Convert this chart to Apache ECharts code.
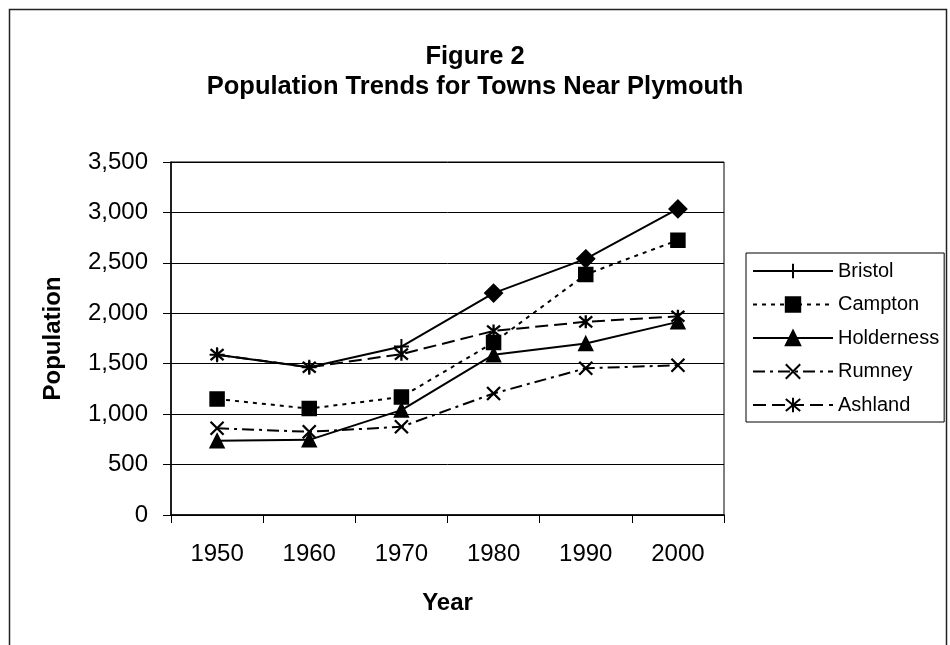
<!DOCTYPE html>
<html><head><meta charset="utf-8">
<script src="https://cdn.jsdelivr.net/npm/echarts/dist/echarts.min.js"></script>
<style>html,body{margin:0;padding:0;background:#fff}#c{width:950px;height:645px}</style>
</head><body><div id="c"></div>
<script>
const years = ['1950','1960','1970','1980','1990','2000'];
const yTickLabels = ['0','500','1,000','1,500','2,000','2,500','3,000','3,500'];
const seriesNames = ['Bristol','Campton','Holderness','Rumney','Ashland'];
const bristol = [1590,1465,1670,2200,2540,3035];
const campton = [1150,1055,1170,1710,2385,2725];
const holderness = [735,745,1040,1590,1700,1915];
const rumney = [860,825,875,1205,1455,1485];
const ashland = [1590,1465,1595,1825,1915,1970];

const FONT = "'Liberation Sans', Arial, sans-serif";
const plusPath = 'path://M0,5 L10,5 M5,0 L5,10';
const xPath = 'path://M0,0 L10,10 M10,0 L0,10';
const starPath = 'path://M0,0 L10,10 M10,0 L0,10 M5,-1 L5,11';

function mk(name, data, symbol, dash, size, bw) {
  return {
    name: name, type: 'line', data: data, symbol: symbol, symbolSize: size || 12,
    lineStyle: {color: '#000', width: 2, type: dash},
    itemStyle: {color: '#000', borderColor: '#000', borderWidth: bw || 1.6},
    emphasis: {disabled: true}, z: 3
  };
}

const chart = echarts.init(document.getElementById('c'), null, {renderer: 'canvas'});
chart.setOption({
  animation: false,
  backgroundColor: '#fff',
  textStyle: {fontFamily: FONT},
  title: {
    text: 'Figure 2\nPopulation Trends for Towns Near Plymouth',
    left: 'center', top: 37,
    textStyle: {fontFamily: FONT, fontSize: 25.5, fontWeight: 'bold', color: '#000', lineHeight: 30}
  },
  graphic: [{
    type: 'rect', shape: {x: 9.5, y: 9.5, width: 937, height: 700},
    style: {fill: 'none', stroke: '#222', lineWidth: 1.5}, silent: true, z: 0
  }],
  grid: {left: 171, right: 226, top: 162, bottom: 130, show: true, borderColor: '#000', borderWidth: 1},
  legend: {
    orient: 'vertical', left: 746, top: 253,
    padding: [8, 5, 7, 6], itemGap: 13.5, itemWidth: 80, itemHeight: 18,
    borderColor: '#000', borderWidth: 1,
    data: seriesNames,
    textStyle: {fontFamily: FONT, fontSize: 20, color: '#000'}
  },
  xAxis: {
    type: 'category', data: years, boundaryGap: true,
    axisLine: {lineStyle: {color: '#000', width: 1.5}},
    axisTick: {show: true, length: 8, lineStyle: {color: '#000'}},
    axisLabel: {fontFamily: FONT, fontSize: 24, color: '#000', margin: 27},
    name: 'Year', nameLocation: 'middle', nameGap: 76,
    nameTextStyle: {fontFamily: FONT, fontSize: 24, fontWeight: 'bold', color: '#000'}
  },
  yAxis: {
    type: 'value', min: 0, max: 3500, interval: 500,
    axisLine: {show: true, lineStyle: {color: '#000', width: 1.5}},
    axisTick: {show: true, length: 8, lineStyle: {color: '#000'}},
    splitLine: {lineStyle: {color: '#000', width: 1}},
    axisLabel: {fontFamily: FONT, fontSize: 24, color: '#000', margin: 23,
      formatter: function (v) { return yTickLabels[Math.round(v / 500)]; }},
    name: 'Population', nameLocation: 'middle', nameGap: 106, nameRotate: 90,
    nameTextStyle: {fontFamily: FONT, fontSize: 24, fontWeight: 'bold', color: '#000'}
  },
  series: [
    mk('Bristol', bristol.map(function (v, i) {
      return i < 3 ? {value: v, symbol: plusPath, symbolSize: 15} : {value: v, symbol: 'diamond', symbolSize: 17};
    }), plusPath, 'solid', 15, 2),
    mk('Campton', campton, 'rect', [4, 5], 14, 1.5),
    mk('Holderness', holderness, 'triangle', 'solid', 14, 1.5),
    mk('Rumney', rumney, xPath, [12, 5, 3, 5], 13, 2.3),
    mk('Ashland', ashland, starPath, [13, 6], 13, 2.3)
  ]
});
</script>
</body></html>
